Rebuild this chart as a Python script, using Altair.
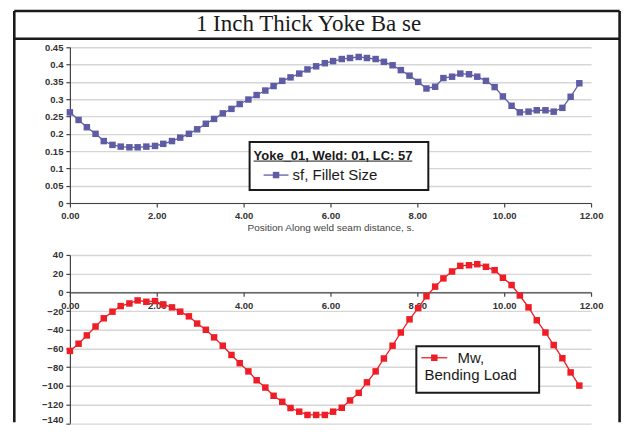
import altair as alt
import pandas as pd

# ---------------- data ----------------
positions = [0.00, 0.20, 0.39, 0.59, 0.78, 0.98, 1.17, 1.37, 1.56, 1.76,
             1.96, 2.15, 2.35, 2.54, 2.74, 2.93, 3.13, 3.32, 3.52, 3.72,
             3.91, 4.11, 4.30, 4.50, 4.69, 4.89, 5.08, 5.28, 5.47, 5.67,
             5.87, 6.06, 6.26, 6.45, 6.65, 6.84, 7.04, 7.23, 7.43, 7.62,
             7.82, 8.02, 8.21, 8.41, 8.60, 8.80, 8.99, 9.19, 9.38, 9.58,
             9.78, 9.97, 10.17, 10.36, 10.56, 10.75, 10.95, 11.14, 11.34, 11.53,
             11.73]

fillet_size = [0.262, 0.240, 0.219, 0.200, 0.179, 0.168, 0.163, 0.161, 0.161, 0.163,
               0.165, 0.171, 0.179, 0.189, 0.200, 0.213, 0.229, 0.243, 0.259, 0.272,
               0.286, 0.299, 0.312, 0.325, 0.338, 0.353, 0.363, 0.374, 0.386, 0.395,
               0.404, 0.410, 0.416, 0.419, 0.422, 0.419, 0.416, 0.408, 0.398, 0.384,
               0.368, 0.350, 0.331, 0.336, 0.361, 0.365, 0.374, 0.372, 0.365, 0.353,
               0.335, 0.308, 0.281, 0.262, 0.264, 0.268, 0.268, 0.264, 0.275, 0.307,
               0.346]

bending_load = [-62.7, -55.0, -46.1, -36.6, -27.8, -20.7, -14.7, -11.9, -8.7, -10.1,
                -9.4, -12.9, -16.1, -20.7, -25.7, -33.4, -40.1, -48.2, -57.1, -67.0,
                -75.8, -84.6, -94.1, -101.9, -110.7, -117.1, -123.8, -127.7, -131.2, -131.2,
                -131.2, -127.7, -123.5, -115.7, -107.6, -96.3, -84.6, -70.8, -57.1, -43.0,
                -28.9, -16.9, -4.2, 6.1, 14.9, 22.3, 28.3, 29.0, 30.1, 27.3,
                23.7, 15.6, 7.8, -3.4, -16.1, -29.9, -43.0, -56.4, -70.5, -85.7,
                -99.8]

x_ticks = [0, 2, 4, 6, 8, 10, 12]
y_top_ticks = [0, 0.05, 0.1, 0.15, 0.2, 0.25, 0.3, 0.35, 0.4, 0.45]
y_bot_ticks = [40, 20, 0, -20, -40, -60, -80, -100, -120, -140]

chart_title = "1 Inch Thick Yoke Ba se"
x_title = "Position Along weld seam distance, s."
legend_title = "Yoke_01, Weld: 01, LC: 57"
sf_label = "sf, Fillet Size"
mw_label_1 = "Mw,"
mw_label_2 = "Bending Load"

# ---------------- styles ----------------
PURPLE = "#5F5CA6"
RED = "#EE1D26"
FONT = "Liberation Sans"
SERIF = "Liberation Serif"
INK = "#1a1a1a"
LABEL = "#333333"
GRID = "#d6d6d6"

df = pd.DataFrame({"s": positions, "sf": fillet_size, "mw": bending_load})
one = pd.DataFrame({"k": [0]})

W_TOP, H_TOP = 522, 156
W_BOT, H_BOT = 522, 168.5
FRAME_L, FRAME_R = -55.7, 550.6
FRAME_T, FRAME_B = -36.4, 375.5
SW = 2.6

axis_common = dict(
    labelFont=FONT, labelFontSize=9.5, labelFontWeight="bold", labelColor=LABEL,
    domainColor="#444444", domainWidth=1.2, tickColor="#444444", tickWidth=1.2,
)

# ---------------- top panel ----------------
x_top = alt.X("s:Q", scale=alt.Scale(domain=[0, 12], nice=False, zero=False),
              axis=alt.Axis(values=x_ticks, format=".2f", title=x_title, grid=False,
                            labelFlush=False, tickSize=4, labelPadding=4,
                            titleFont=FONT, titleFontSize=10, titleFontWeight="normal",
                            titleColor="#444444", titlePadding=2, **axis_common))
y_top = alt.Y("sf:Q", scale=alt.Scale(domain=[0, 0.45], nice=False),
              axis=alt.Axis(values=y_top_ticks, format="~g", title=None, grid=True,
                            gridColor=GRID, gridWidth=1.4, tickSize=4, labelPadding=3,
                            **axis_common))

frame_left = alt.Chart(one).mark_rule(color=INK, strokeWidth=SW).encode(
    x=alt.value(FRAME_L), y=alt.value(FRAME_T), y2=alt.value(FRAME_B))
frame_right = alt.Chart(one).mark_rule(color=INK, strokeWidth=SW).encode(
    x=alt.value(FRAME_R), y=alt.value(FRAME_T), y2=alt.value(FRAME_B))
frame_top = alt.Chart(one).mark_rule(color=INK, strokeWidth=SW).encode(
    x=alt.value(FRAME_L), x2=alt.value(FRAME_R), y=alt.value(FRAME_T))
title_rule = alt.Chart(one).mark_rule(color=INK, strokeWidth=SW).encode(
    x=alt.value(FRAME_L), x2=alt.value(FRAME_R), y=alt.value(-8.6))
title_txt = alt.Chart(one).mark_text(text=chart_title, font=SERIF, fontSize=23,
                                     align="center", baseline="middle", color=INK).encode(
    x=alt.value(239), y=alt.value(-23.5))

top_line = alt.Chart(df).mark_line(
    color=PURPLE, strokeWidth=1.3,
    point=alt.OverlayMarkDef(shape="square", size=42, filled=True, color=PURPLE, opacity=1),
).encode(x=x_top, y=y_top)

leg1_box = alt.Chart(one).mark_rect(fill="white", stroke=INK, strokeWidth=2).encode(
    x=alt.value(180), x2=alt.value(359), y=alt.value(95), y2=alt.value(143))
leg1_title = alt.Chart(one).mark_text(text=legend_title, font=FONT, fontSize=13,
                                      fontWeight="bold", align="left", baseline="middle",
                                      color=INK).encode(x=alt.value(184), y=alt.value(109))
leg1_under = alt.Chart(one).mark_rule(color=INK, strokeWidth=1).encode(
    x=alt.value(184), x2=alt.value(343), y=alt.value(114))
leg1_line = alt.Chart(one).mark_rule(color=PURPLE, strokeWidth=1.3).encode(
    x=alt.value(194), x2=alt.value(219), y=alt.value(128))
leg1_sq = alt.Chart(one).mark_point(shape="square", size=42, filled=True, color=PURPLE,
                                    opacity=1).encode(x=alt.value(206.5), y=alt.value(128))
leg1_txt = alt.Chart(one).mark_text(text=sf_label, font=FONT, fontSize=15, align="left",
                                    baseline="middle", color=INK).encode(
    x=alt.value(223), y=alt.value(128))

top = alt.layer(frame_left, frame_right, frame_top, title_rule, title_txt, top_line,
                leg1_box, leg1_title, leg1_under, leg1_line, leg1_sq, leg1_txt
                ).properties(width=W_TOP, height=H_TOP)

# ---------------- bottom panel ----------------
x_bot = alt.X("s:Q", scale=alt.Scale(domain=[0, 12], nice=False, zero=False),
              axis=alt.Axis(values=x_ticks, format=".2f", title=None, grid=False,
                            labelFlush=False, tickSize=4, labelPadding=4,
                            offset=-131.1, **axis_common))
y_bot = alt.Y("mw:Q", scale=alt.Scale(domain=[-140, 40], nice=False, zero=False),
              axis=alt.Axis(values=y_bot_ticks, format="d", title=None, grid=True,
                            gridColor=GRID, gridWidth=1.4, tickSize=4, labelPadding=3,
                            labelOffset={"condition": {"test": "datum.value == -140",
                                                       "value": -4}, "value": 0},
                            **axis_common))

bot_line = alt.Chart(df).mark_line(
    color=RED, strokeWidth=1.3,
    point=alt.OverlayMarkDef(shape="square", size=42, filled=True, color=RED, opacity=1),
).encode(x=x_bot, y=y_bot)

leg2_box = alt.Chart(one).mark_rect(fill="white", stroke=INK, strokeWidth=2).encode(
    x=alt.value(347), x2=alt.value(470), y=alt.value(91.5), y2=alt.value(138))
leg2_line = alt.Chart(one).mark_rule(color=RED, strokeWidth=1.3).encode(
    x=alt.value(352), x2=alt.value(378), y=alt.value(103))
leg2_sq = alt.Chart(one).mark_point(shape="square", size=42, filled=True, color=RED,
                                    opacity=1).encode(x=alt.value(365), y=alt.value(103))
leg2_txt1 = alt.Chart(one).mark_text(text=mw_label_1, font=FONT, fontSize=15, align="center",
                                     baseline="middle", color=INK).encode(
    x=alt.value(401.5), y=alt.value(103))
leg2_txt2 = alt.Chart(one).mark_text(text=mw_label_2, font=FONT, fontSize=15, align="center",
                                     baseline="middle", color=INK).encode(
    x=alt.value(401.5), y=alt.value(120.5))

bottom = alt.layer(bot_line, leg2_box, leg2_line, leg2_sq, leg2_txt1, leg2_txt2).properties(
    width=W_BOT, height=H_BOT)

chart = alt.vconcat(top, bottom, spacing=52, bounds="flush").resolve_scale(
    x="independent", y="independent"
).properties(
    padding={"left": 4, "top": 0, "right": 0, "bottom": 0},
    background="white",
).configure_view(stroke="transparent")

chart.save("out.html", embed_options={"renderer": "svg", "actions": False})
